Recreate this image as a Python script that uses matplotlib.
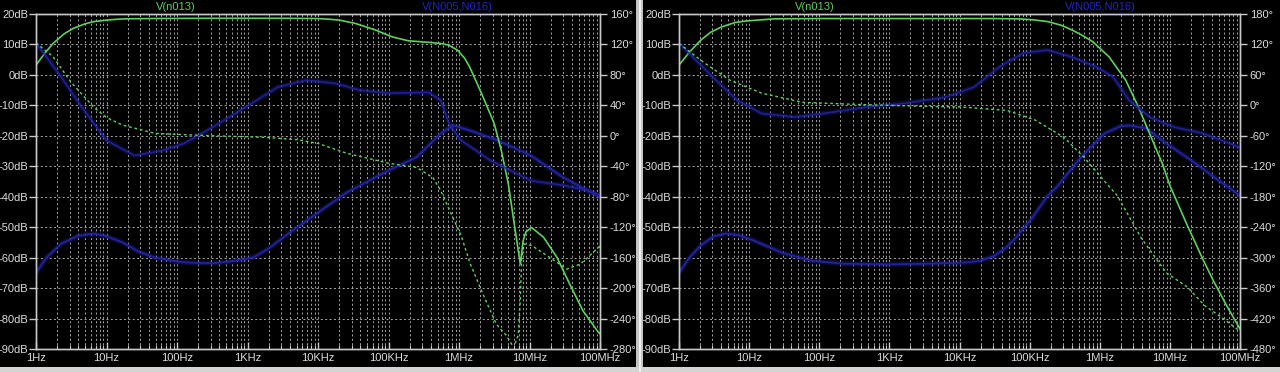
import matplotlib
matplotlib.use('Agg')
import matplotlib.pyplot as plt
from matplotlib.patches import Rectangle
from matplotlib.ticker import FixedLocator, NullFormatter

# ---------------- data ----------------
freq_ticks = [1, 10, 100, 1e3, 1e4, 1e5, 1e6, 1e7, 1e8]
freq_labels = ['1Hz', '10Hz', '100Hz', '1KHz', '10KHz', '100KHz', '1MHz', '10MHz', '100MHz']
db_ticks = [20, 10, 0, -10, -20, -30, -40, -50, -60, -70, -80, -90]
left_phase_ticks = [160, 120, 80, 40, 0, -40, -80, -120, -160, -200, -240, -280]
right_phase_ticks = [180, 120, 60, 0, -60, -120, -180, -240, -300, -360, -420, -480]
series_names = ['V(n013)', 'V(N005,N016)']

# Left panel
L_gmag_f = [1, 1.32, 1.74, 2.51, 3.39, 5.01, 6.61, 10, 17, 40, 316, 3160, 1e4, 1.41e4, 2e4,
            3.39e4, 6.61e4, 1.12e5, 1.91e5, 3.72e5, 5.62e5, 7.08e5, 9.55e5, 1.2e6, 1.41e6,
            2.09e6, 3.16e6, 3.98e6, 5.01e6, 5.89e6, 7.41e6, 8.13e6, 8.91e6, 1.07e7, 1.58e7,
            2.45e7, 3.72e7, 5.75e7, 9.55e7, 1e8]
L_gmag_db = [3.2, 7, 10.3, 13.5, 15.3, 16.8, 17.5, 18.0, 18.4, 18.5, 18.6, 18.6, 18.5, 18.3, 18.0,
             16.9, 14.7, 12.5, 11.2, 10.7, 10.3, 9.8, 8.1, 5.5, 2.7,
             -6.1, -16, -24.8, -35.8, -46.8, -62.1, -54.4, -51.5, -50.1, -53.3,
             -59.9, -68.7, -77.5, -84.6, -85]

L_gph_f = [1, 1.32, 1.74, 3.16, 6.61, 10, 17, 49, 245, 1780, 5010, 1e4, 2.57e4, 1e5, 2.51e5,
           4.27e5, 5.5e5, 1.07e6, 1.45e6, 2.19e6, 3.39e6, 4.68e6, 5.62e6, 6.31e6, 6.92e6,
           7.41e6, 7.76e6, 8.32e6, 1.07e7, 1.95e7, 3.39e7, 5.25e7, 9.55e7, 1e8]
L_gph_deg = [122, 113, 104, 70, 37.5, 24, 14, 3.2, 0.4, -2, -5, -10, -23, -36, -41.5,
             -55, -72, -131, -168.5, -208, -247.5, -262, -274, -272, -262,
             -215, -160, -142, -144, -160, -175, -168.5, -146.6, -145]

L_bmag_f = [1, 1.41, 2.29, 3.98, 6.61, 10, 17, 28.2, 49, 100, 162, 316, 479, 1200, 2000, 3470,
            1e4, 2.57e4, 1e5, 2.51e5, 5.5e5, 8.32e5, 1.41e6, 3.55e6, 1.05e7, 3.02e7, 6.76e7, 1e8]
L_bmag_db = [-65, -60, -55.4, -52.8, -52.1, -53, -55, -58, -60, -61.3, -61.7, -61.8, -61.5, -60,
             -57, -52.8, -45.2, -38.6, -31.4, -27, -19.2, -16.6, -18.2, -21.5, -26.5, -33.7,
             -38, -40]

L_bph_f = [1, 2.29, 4.47, 10, 25.1, 64.6, 126, 316, 933, 2690, 6760, 1.74e4, 3.89e4, 1e5,
           3.72e5, 5.5e5, 7.24e5, 1.07e6, 2.75e6, 1.05e7, 3.02e7, 6.76e7, 1e8]
L_bph_deg = [122, 77, 37.5, -6, -26, -19, -10, 11, 37.5, 64, 73, 69, 60, 56,
             57, 47, 16, -6, -32, -59, -65, -72, -78]

# Right panel
R_gmag_f = [1, 1.41, 2.04, 2.82, 3.98, 6.31, 8.91, 22.9, 100, 3.16e4, 7.08e4, 1.12e5, 1.82e5,
            2.82e5, 4.07e5, 5.62e5, 7.94e5, 1.35e6, 2.34e6, 3.47e6, 5.13e6, 7.76e6, 1e7,
            1.74e7, 2.95e7, 4.17e7, 6.46e7, 1e8]
R_gmag_db = [3.2, 7.5, 11.4, 14, 15.7, 17.2, 17.7, 18.4, 18.5, 18.5, 18.4, 18.1, 17.5,
             16.3, 14.7, 13, 10.9, 6, -1.7, -10, -19.2, -29, -36.3,
             -49, -60.5, -67.6, -75.8, -83.4]

R_gph_f = [1, 1.41, 2.34, 5.25, 15.1, 57.5, 316, 3160, 1e4, 4.79e4, 1.2e5, 3.09e5, 6.03e5,
           1.05e6, 1.78e6, 3.98e6, 8.91e6, 1.78e7, 3.16e7, 5.13e7, 1e8]
R_gph_deg = [122, 106, 83, 50, 24, 6, 2, -2, -3, -10, -29, -63, -103,
             -142, -178, -263, -330, -358, -395, -415, -445]

R_bmag_f = [1, 1.41, 2.04, 3.16, 4.57, 7.08, 11.7, 29.5, 75.9, 224, 1000, 3240, 1.23e4, 2e4,
            3.16e4, 4.47e4, 6.17e4, 1.07e5, 1.82e5, 2.4e5, 5.37e5, 1.17e6, 2e6, 2.63e6,
            4.57e6, 8.91e6, 2e7, 5.01e7, 1e8]
R_bmag_db = [-65, -60, -56, -53, -52.1, -52.6, -54.4, -58.4, -61, -62, -62.2, -62, -61.6, -61,
             -59.4, -57, -53.8, -47.2, -39.6, -37, -27.1, -19.2, -16.8, -16.6,
             -17.5, -22.5, -28, -34.7, -39.6]

R_bph_f = [1, 1.58, 3.02, 6.76, 15.1, 44.7, 115, 437, 1660, 6310, 1.62e4, 3.63e4, 8.13e4,
           1.82e5, 4.07e5, 9.12e5, 1.55e6, 2.63e6, 5.13e6, 1.15e7, 2.95e7, 1e8]
R_bph_deg = [123, 95, 56, 10, -16, -23, -16, -4, 4, 16, 36, 75, 103,
             109, 95, 75, 56, 10, -23, -43, -55, -83]

# ---------------- style ----------------
W, H = 1280, 372
BG = 'black'
FRAME = '#c8c8c8'
TXT = '#dcdcdc'
GRID = '#a8a8a8'
GREEN = '#5fd05f'
BLUE = '#2424a4'
FS = 8.0

plt.rcParams['font.family'] = ['Liberation Sans', 'DejaVu Sans']
fig = plt.figure(figsize=(W / 100, H / 100), dpi=100, facecolor=BG)


def panel(x0, x1, ph_ticks, gmag, gph, bmag, bph, name_x):
    ax = fig.add_axes([x0 / W, 23 / H, (x1 - x0) / W, 335 / H])
    ax.set_facecolor(BG)
    ax.set_xscale('log')
    ax.set_xlim(1, 1e8)
    ax.set_ylim(-90, 20)
    ax.xaxis.set_major_locator(FixedLocator(freq_ticks))
    minors = [m * 10 ** d for d in range(8) for m in range(2, 10)]
    ax.xaxis.set_minor_locator(FixedLocator(minors))
    ax.xaxis.set_minor_formatter(NullFormatter())
    ax.set_xticklabels(freq_labels)
    ax.set_yticks(db_ticks)
    ax.set_yticklabels([f'{v}dB' for v in db_ticks])
    for s in ax.spines.values():
        s.set_color(FRAME)
        s.set_linewidth(1.0)
    ax.tick_params(axis='y', which='major', direction='out', length=5, width=1,
                   color=FRAME, labelcolor=TXT, labelsize=FS, pad=0.5)
    ax.tick_params(axis='x', which='major', direction='in', length=5, width=1,
                   color=FRAME, labelcolor=TXT, labelsize=FS, pad=3)
    ax.tick_params(axis='x', which='minor', direction='in', length=3, width=0.8,
                   color=FRAME)
    ax.grid(True, which='both', axis='x', color=GRID, linewidth=0.7, linestyle=(0, (2, 2.5)))
    ax.grid(True, which='major', axis='y', color=GRID, linewidth=0.7, linestyle=(0, (2, 2.5)))

    ax2 = ax.twinx()
    ax2.set_ylim(ph_ticks[-1], ph_ticks[0])
    ax2.set_yticks(ph_ticks)
    ax2.set_yticklabels([f'{v}°' for v in ph_ticks])
    ax2.tick_params(axis='y', direction='out', length=5, width=1, color=FRAME,
                    labelcolor=TXT, labelsize=FS, pad=2)
    for s in ax2.spines.values():
        s.set_color(FRAME)
        s.set_linewidth(1.0)

    # blue traces (soft, blurred look)
    ax.plot(bmag[0], bmag[1], color=BLUE, lw=3.6, alpha=0.35, solid_capstyle='round')
    ax.plot(bmag[0], bmag[1], color=BLUE, lw=1.3, alpha=0.95)
    ax2.plot(bph[0], bph[1], color=BLUE, lw=3.6, alpha=0.3, solid_capstyle='round')
    ax2.plot(bph[0], bph[1], color=BLUE, lw=1.2, alpha=0.85)
    # green traces
    ax2.plot(gph[0], gph[1], color=GREEN, lw=1.0, linestyle=(0, (2, 2)))
    ax.plot(gmag[0], gmag[1], color=GREEN, lw=1.2)

    fig.text(name_x[0] / W, 1 - 7 / H, series_names[0], color=GREEN, fontsize=FS,
             ha='center', va='center')
    fig.text(name_x[1] / W, 1 - 7 / H, series_names[1], color='#2424c8', fontsize=FS,
             ha='center', va='center')
    return ax


panel(36, 600, left_phase_ticks, (L_gmag_f, L_gmag_db), (L_gph_f, L_gph_deg),
      (L_bmag_f, L_bmag_db), (L_bph_f, L_bph_deg), (176, 457))
panel(679, 1240, right_phase_ticks, (R_gmag_f, R_gmag_db), (R_gph_f, R_gph_deg),
      (R_bmag_f, R_bmag_db), (R_bph_f, R_bph_deg), (815, 1100))

# window separator and bottom strip
fig.patches.append(Rectangle((636 / W, 0), 7 / W, 1, transform=fig.transFigure,
                             facecolor='#c4c4c4', edgecolor='none', zorder=5))
fig.patches.append(Rectangle((638.5 / W, 0), 2 / W, 1, transform=fig.transFigure,
                             facecolor='#f0f0f0', edgecolor='none', zorder=6))
fig.patches.append(Rectangle((0, 0), 1, 5 / H, transform=fig.transFigure,
                             facecolor='#d4d4d4', edgecolor='none', zorder=5))

fig.savefig('out.png', dpi=100, facecolor=BG)
